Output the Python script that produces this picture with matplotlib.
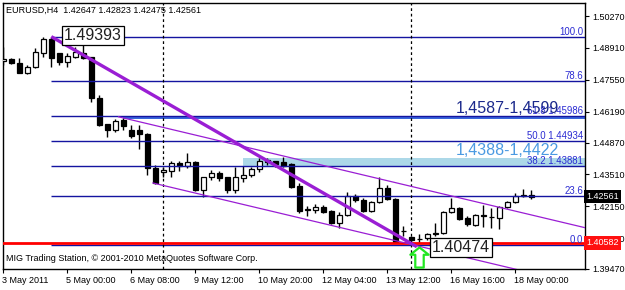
import matplotlib
matplotlib.use("Agg")
import matplotlib.pyplot as plt
import matplotlib.transforms as mtransforms
from matplotlib.path import Path
import numpy as np

plt.rcParams['font.family'] = ['Liberation Sans', 'DejaVu Sans']

symbol = "EURUSD,H4"
last_ohlc = [1.42647, 1.42823, 1.42475, 1.42561]
footer = "MIG Trading Station, \u00a9 2001-2010 MetaQuotes Software Corp."

# H4 candles, one per bar
opens = [1.48349, 1.48435, 1.48264, 1.47837, 1.48093, 1.48700, 1.49280, 1.48691, 1.48307, 1.48520,
         1.48691, 1.48520, 1.46770, 1.45661, 1.45405, 1.45831, 1.45405, 1.45405, 1.45234, 1.43783,
         1.43612, 1.43655, 1.43996, 1.43868, 1.44039, 1.42844, 1.43399, 1.43569, 1.43399, 1.42844,
         1.43356, 1.43484, 1.43740, 1.44124, 1.44081, 1.44039, 1.43953, 1.43015, 1.42010, 1.41990,
         1.42118, 1.41947, 1.41435, 1.41777, 1.42588, 1.42417, 1.41947, 1.42332, 1.42929, 1.42460,
         1.41094, 1.40838, 1.40750, 1.40795, 1.40966, 1.41009, 1.41905, 1.42076, 1.41649, 1.41350,
         1.41777, 1.41700, 1.41649, 1.42118, 1.42332, 1.42588, 1.42647]
highs = [1.48947, 1.48477, 1.48477, 1.48179, 1.48904, 1.49360, 1.49393, 1.48710, 1.48691, 1.48947,
         1.49118, 1.48540, 1.46898, 1.45680, 1.45874, 1.45917, 1.45618, 1.45618, 1.45260, 1.43911,
         1.43825, 1.44081, 1.44081, 1.44423, 1.44081, 1.43420, 1.43697, 1.43655, 1.43420, 1.43825,
         1.43868, 1.43825, 1.44209, 1.44209, 1.44100, 1.44252, 1.43980, 1.43143, 1.42150, 1.42246,
         1.42200, 1.41990, 1.41905, 1.42758, 1.42673, 1.42502, 1.42374, 1.43399, 1.43057, 1.42502,
         1.41307, 1.40880, 1.40966, 1.41010, 1.41435, 1.41947, 1.42502, 1.42118, 1.41734, 1.41820,
         1.42204, 1.42076, 1.42161, 1.42374, 1.42716, 1.42887, 1.42823]
lows = [1.48179, 1.48221, 1.47820, 1.47795, 1.48051, 1.48520, 1.48093, 1.48179, 1.48093, 1.48477,
        1.48450, 1.46600, 1.45590, 1.45106, 1.45320, 1.45405, 1.45063, 1.44594, 1.43484, 1.43120,
        1.43399, 1.43399, 1.43655, 1.43783, 1.42820, 1.42545, 1.43271, 1.43228, 1.42716, 1.42716,
        1.43185, 1.43399, 1.43612, 1.43911, 1.43825, 1.43825, 1.42930, 1.41862, 1.41720, 1.41862,
        1.41862, 1.41393, 1.41222, 1.41734, 1.42332, 1.41905, 1.41905, 1.42289, 1.42417, 1.40582,
        1.40880, 1.40474, 1.40582, 1.40710, 1.40900, 1.40966, 1.41862, 1.41563, 1.41307, 1.41307,
        1.41264, 1.41222, 1.41179, 1.42076, 1.42300, 1.42545, 1.42475]
closes = [1.48435, 1.48264, 1.47837, 1.48093, 1.48734, 1.49300, 1.48477, 1.48307, 1.48563, 1.48734,
          1.48477, 1.46770, 1.45618, 1.45405, 1.45789, 1.45575, 1.45148, 1.45234, 1.43783, 1.43143,
          1.43697, 1.43996, 1.43868, 1.44039, 1.42844, 1.43399, 1.43569, 1.43356, 1.42844, 1.43399,
          1.43484, 1.43740, 1.44081, 1.44039, 1.43953, 1.43868, 1.42972, 1.41947, 1.42040, 1.42118,
          1.41905, 1.41435, 1.41777, 1.42588, 1.42417, 1.41947, 1.42332, 1.42929, 1.42460, 1.40625,
          1.41110, 1.40710, 1.40770, 1.40966, 1.41009, 1.41905, 1.42076, 1.41606, 1.41393, 1.41777,
          1.41734, 1.41690, 1.42118, 1.42332, 1.42588, 1.42640, 1.42561]

date_labels = ["3 May 2011", "5 May 00:00", "6 May 08:00", "9 May 12:00", "10 May 20:00",
               "12 May 04:00", "13 May 12:00", "16 May 16:00", "18 May 00:00"]
label_step = 8
price_ticks = [1.50270, 1.48910, 1.47550, 1.46190, 1.44870, 1.43510, 1.42150, 1.40790, 1.39470]

# fibonacci retracement
fib_high = 1.49393
fib_low = 1.40474
fib_start_bar = 6
fib_levels = [100.0, 78.6, 61.8, 50.0, 38.2, 23.6, 0.0]
fib_show_price = [False, False, True, True, True, False, False]

# zones
zone_lows = [1.4587, 1.4388]
zone_highs = [1.4599, 1.4422]
zone_start = [15, 30]
zone_names = ["1,4587-1,4599", "1,4388-1,4422"]

# trend line high -> low, and channel
trend_bars = [6, 51.7]
trend_prices = [1.49393, 1.4042]
channel_bars = [14.4, 18.7]
channel_prices = [1.4597, 1.43143]
channel_slope = -0.000812

hline_price = 1.40582
vline_bars = [20, 51]
arrow_bar = 52
arrow_price = 1.39986
high_label_bar = 7.6
low_label_bar = 53.6
zone_text_bar = 56.6

fig = plt.figure(figsize=(6.25, 2.9), dpi=100)
ax = fig.add_axes([3/625, 21/290, 582/625, 266/290])
xmax = 72.72
far = 90

x = np.arange(len(opens))
o = np.array(opens); c = np.array(closes)
ax.vlines(x, lows, highs, color='black', lw=1, zorder=3)
body_col = ['white' if cc >= oo else 'black' for oo, cc in zip(o, c)]
ax.bar(x, np.abs(c - o), bottom=np.minimum(o, c), width=0.6, color=body_col,
       edgecolor='black', lw=0.9, zorder=4)

# zones (background)
zone_cols = ['#3a66dc', '#acd8e8']
for lo, hi, s, col in zip(zone_lows, zone_highs, zone_start, zone_cols):
    ax.fill_between([s, far], lo, hi, color=col, lw=0, zorder=1)

# fib levels
rng = fib_high - fib_low
bt = mtransforms.blended_transform_factory(ax.transAxes, ax.transData)
for lvl, show in zip(fib_levels, fib_show_price):
    p = fib_low + lvl / 100 * rng
    ax.hlines(p, fib_start_bar, far, color='#1414a0', lw=1, zorder=5)
    txt = "%.1f %.5f" % (lvl, p) if show else "%.1f" % lvl
    ax.text(0.997, p, txt, transform=bt, ha='right', va='bottom', fontsize=6.9,
            color='#2a2ad2', zorder=6)

ax.axhline(hline_price, color='#ff0000', lw=2, zorder=5)

for vb in vline_bars:
    ax.axvline(vb, color='black', lw=0.9, ls=(0, (2.2, 2.2)), zorder=5)

# trend + channel
ax.plot(trend_bars, trend_prices, color='#9a1ed4', lw=2.4, zorder=6, solid_capstyle='butt')
for b0, p0 in zip(channel_bars, channel_prices):
    ax.plot([b0, far], [p0, p0 + channel_slope * (far - b0)], color='#9a1ed4', lw=0.9, zorder=6)

# zone texts
ax.text(zone_text_bar, zone_highs[0], zone_names[0], fontsize=11.5, color='#1c2a8c',
        ha='left', va='bottom', zorder=7)
ax.text(zone_text_bar, zone_highs[1], zone_names[1], fontsize=11.5, color='#4a9ae2',
        ha='left', va='bottom', zorder=7)

box = dict(boxstyle='square,pad=0.12', fc='white', ec='black', lw=0.9)
ax.annotate("%.5f" % fib_high, (high_label_bar, fib_high), xytext=(0, 1), textcoords='offset points',
            fontsize=11.5, color='#202020', ha='left', va='center', bbox=box, zorder=8)
ax.annotate("%.5f" % fib_low, (low_label_bar, fib_low), xytext=(0, -1.5), textcoords='offset points',
            fontsize=11.5, color='#202020', ha='left', va='center', bbox=box, zorder=8)

# green arrow
arrow = Path([(0, 0.55), (0.5, 0.15), (0.23, 0.15), (0.23, -0.55), (-0.23, -0.55),
              (-0.23, 0.15), (-0.5, 0.15), (0, 0.55)], closed=True)
ax.plot([arrow_bar], [arrow_price], marker=arrow, ms=14.5, mfc='white', mec='#22e622',
        mew=1.6, zorder=9, clip_on=False)

# header / footer
ax.text(0.005, 0.974, "%s  %.5f %.5f %.5f %.5f" % (symbol, *last_ohlc), transform=ax.transAxes,
        fontsize=6.5, ha='left', va='center', zorder=9)
ax.text(0.005, 0.041, footer, transform=ax.transAxes, fontsize=6.5, ha='left', va='center', zorder=9)

ax.set_xlim(-0.04, xmax)
ax.set_ylim(1.3947, 1.5083)

ax.yaxis.tick_right()
ax.set_yticks(price_ticks)
ax.set_yticklabels(["%.5f" % t for t in price_ticks])
ax.set_xticks(np.arange(len(date_labels)) * label_step)
ax.set_xticklabels(date_labels, ha='left')
ax.tick_params(axis='both', direction='out', length=3, width=0.8, labelsize=6.5, pad=2)
for lab in ax.get_xticklabels():
    lab.set_transform(lab.get_transform() + mtransforms.ScaledTranslation(-1/100, 0, fig.dpi_scale_trans))
for sp in ax.spines.values():
    sp.set_linewidth(1)

# price tags on the axis
ax.text(1.002, last_ohlc[3], "%.5f" % last_ohlc[3], transform=bt, fontsize=6.5, color='white',
        ha='left', va='center', bbox=dict(boxstyle='square,pad=0.25', fc='black', ec='none'),
        clip_on=False, zorder=10)
ax.text(1.002, hline_price, "%.5f" % hline_price, transform=bt, fontsize=6.5, color='white',
        ha='left', va='center', bbox=dict(boxstyle='square,pad=0.25', fc='#ff1010', ec='none'),
        clip_on=False, zorder=10)

fig.savefig("out.png", dpi=100, facecolor='white')
